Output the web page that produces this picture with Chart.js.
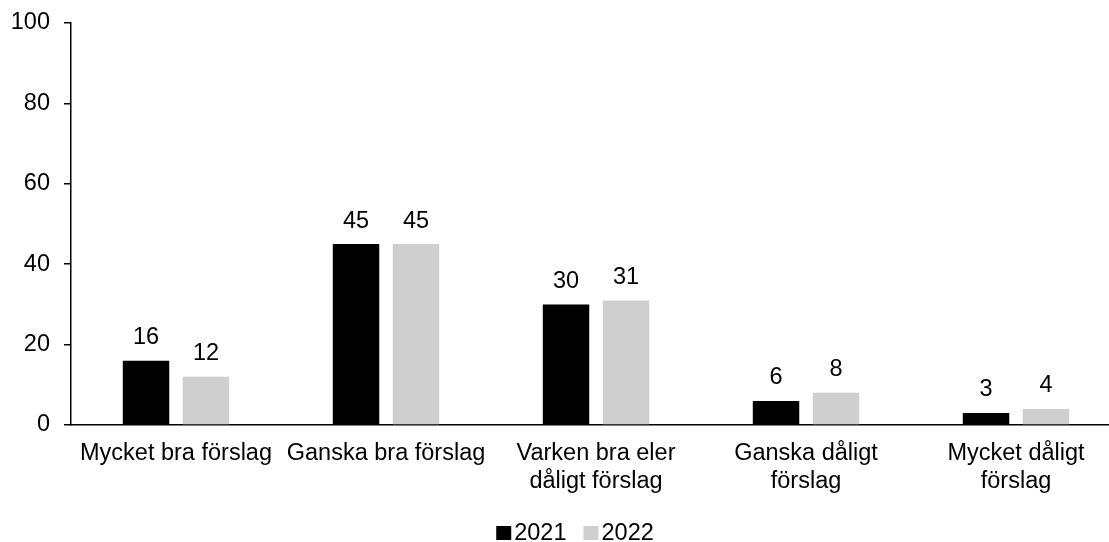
<!DOCTYPE html>
<html>
<head>
<meta charset="utf-8">
<script src="https://cdn.jsdelivr.net/npm/chart.js@4/dist/chart.umd.min.js"></script>
<style>
  html, body { margin: 0; padding: 0; background: #fff; overflow: hidden; }
  #wrap { width: 1109px; height: 542px; overflow: hidden; }
</style>
</head>
<body>
<div id="wrap"><canvas id="c" width="1140" height="542"></canvas></div>
<script>
const categories = [
  "Mycket bra förslag",
  "Ganska bra förslag",
  ["Varken bra eler", "dåligt förslag"],
  ["Ganska dåligt", "förslag"],
  ["Mycket dåligt", "förslag"]
];
const seriesNames = ["2021", "2022"];
const values2021 = [16, 45, 30, 6, 3];
const values2022 = [12, 45, 31, 8, 4];
const yTicks = [0, 20, 40, 60, 80, 100];

const FONT = '"Liberation Sans", Arial, sans-serif';
const FS = 23.5;
const colors = ["#000000", "#d0cfd0"];

const dataLabels = {
  id: 'dataLabels',
  afterDatasetsDraw(chart) {
    const ctx = chart.ctx;
    ctx.save();
    ctx.font = FS + 'px ' + FONT;
    ctx.fillStyle = '#000';
    ctx.textAlign = 'center';
    ctx.textBaseline = 'alphabetic';
    chart.data.datasets.forEach((ds, i) => {
      chart.getDatasetMeta(i).data.forEach((bar, j) => {
        ctx.fillText(String(ds.data[j]), bar.x, bar.y - 16.5);
      });
    });
    ctx.restore();
  }
};

const customLegend = {
  id: 'customLegend',
  afterDraw(chart) {
    const ctx = chart.ctx;
    ctx.save();
    ctx.font = FS + 'px ' + FONT;
    ctx.textBaseline = 'alphabetic';
    ctx.textAlign = 'left';
    const box = 15, boxH = 14, gap = 3, itemGap = 17;
    const items = chart.data.datasets.map(ds => ({ label: ds.label, color: ds.backgroundColor, w: box + gap + ctx.measureText(ds.label).width }));
    const total = items.reduce((s, it) => s + it.w, 0) + itemGap * (items.length - 1);
    const center = 575;
    let x = center - total / 2;
    const baseline = 540;
    items.forEach(it => {
      ctx.fillStyle = it.color;
      ctx.fillRect(x, baseline - boxH, box, boxH);
      ctx.fillStyle = '#000';
      ctx.fillText(it.label, x + box + gap, baseline);
      x += it.w + itemGap;
    });
    ctx.restore();
  }
};

new Chart(document.getElementById('c'), {
  type: 'bar',
  data: {
    labels: categories,
    datasets: [
      { label: seriesNames[0], data: values2021, backgroundColor: colors[0], borderWidth: 0 },
      { label: seriesNames[1], data: values2022, backgroundColor: colors[1], borderWidth: 0 }
    ]
  },
  options: {
    responsive: false,
    animation: false,
    devicePixelRatio: 1,
    categoryPercentage: 0.571,
    barPercentage: 0.775,
    layout: { padding: { top: 23, right: 19, left: 0, bottom: 0 } },
    plugins: {
      legend: { display: false },
      tooltip: { enabled: false },
      title: { display: false }
    },
    scales: {
      x: {
        grid: { display: false, drawTicks: false },
        border: { display: true, color: '#000', width: 1.5 },
        ticks: {
          color: '#000',
          font: { family: FONT, size: FS, lineHeight: 1.17 },
          padding: 15,
          maxRotation: 0,
          autoSkip: false
        },
        afterFit(scale) { scale.height = 117; scale.paddingLeft = 0; scale.paddingRight = 0; }
      },
      y: {
        min: 0,
        max: 100,
        afterBuildTicks(scale) { scale.ticks = yTicks.map(v => ({ value: v })); },
        grid: { display: true, drawOnChartArea: false, drawTicks: true, tickLength: 7, color: '#000', lineWidth: 1.5 },
        border: { display: true, color: '#000', width: 1.5 },
        ticks: {
          color: '#000',
          font: { family: FONT, size: FS },
          padding: 14
        },
        afterFit(scale) { scale.width = 71; scale.paddingTop = 0; scale.paddingBottom = 0; }
      }
    }
  },
  plugins: [dataLabels, customLegend]
});
</script>
</body>
</html>
